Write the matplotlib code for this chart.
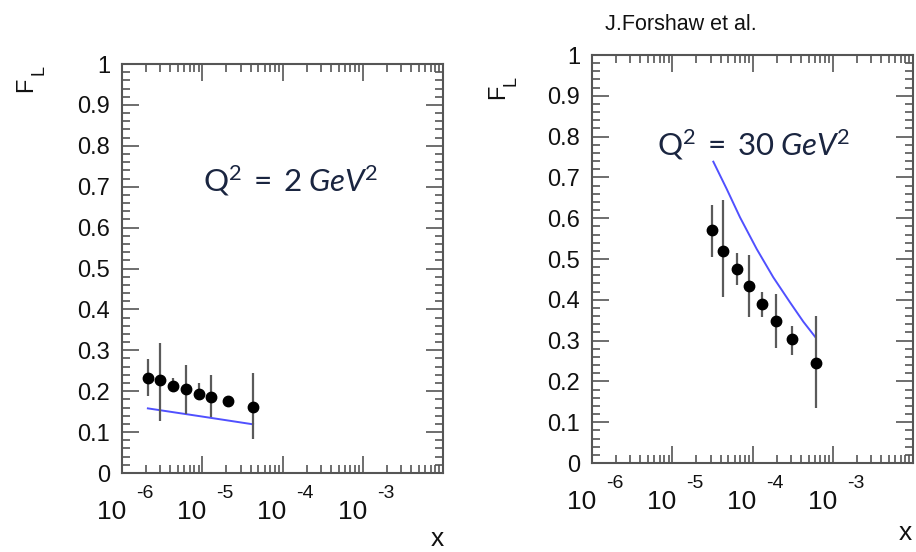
import numpy as np
import matplotlib
matplotlib.use('Agg')
import matplotlib.pyplot as plt
from matplotlib.transforms import ScaledTranslation

plt.rcParams['font.family'] = ['Liberation Sans', 'DejaVu Sans']
plt.rcParams['mathtext.fontset'] = 'custom'
plt.rcParams['mathtext.rm'] = 'Lato'
plt.rcParams['mathtext.it'] = 'Lato:italic'

# Q^2 = 2 GeV^2
x_lo = [2.11e-6, 2.98e-6, 4.35e-6, 6.2e-6, 9.1e-6, 1.29e-5, 2.1e-5, 4.3e-5]
fl_lo = [0.233, 0.228, 0.213, 0.205, 0.194, 0.187, 0.175, 0.161]
up_lo = [0.279, 0.319, 0.232, 0.265, 0.219, 0.240, 0.186, 0.244]
dn_lo = [0.188, 0.128, 0.198, 0.144, 0.178, 0.136, 0.165, 0.082]
xth_lo = [2.1e-6, 1.0e-5, 4.3e-5]
th_lo = [0.158, 0.138, 0.119]

# Q^2 = 30 GeV^2
x_hi = [3.15e-5, 4.3e-5, 6.35e-5, 9.0e-5, 1.30e-4, 1.95e-4, 3.08e-4, 6.14e-4]
fl_hi = [0.572, 0.520, 0.475, 0.434, 0.389, 0.348, 0.304, 0.246]
up_hi = [0.633, 0.645, 0.514, 0.510, 0.420, 0.414, 0.335, 0.360]
dn_hi = [0.506, 0.407, 0.436, 0.359, 0.359, 0.281, 0.265, 0.134]
xth_hi = [3.25e-5, 4.77e-5, 6.99e-5, 1.128e-4, 1.816e-4, 2.933e-4, 4.30e-4, 6.01e-4]
th_hi = [0.7385, 0.6716, 0.6021, 0.5245, 0.4551, 0.3938, 0.3463, 0.3096]

yticks = [0, 0.1, 0.2, 0.3, 0.4, 0.5, 0.6, 0.7, 0.8, 0.9, 1]
ylabels = ['0', '0.1', '0.2', '0.3', '0.4', '0.5', '0.6', '0.7', '0.8', '0.9', '1']
decades = [-6, -5, -4, -3]

W, H = 916, 552
fig = plt.figure(figsize=(W/100, H/100), dpi=100)

def shift(ax, dx, dy):
    return ax.get_xaxis_transform() + ScaledTranslation(dx/100, dy/100, fig.dpi_scale_trans)

def panel(rect, x, fl, up, dn, xth, th):
    ax = fig.add_axes(rect)
    ax.set_xscale('log')
    ax.set_xlim(1e-6, 1e-2)
    ax.set_ylim(0, 1)
    ax.plot(xth, th, color='#5050ff', lw=1.4, zorder=2)
    x = np.array(x)
    fl = np.array(fl)
    yerr = [fl - np.array(dn), np.array(up) - fl]
    ax.errorbar(x, fl, yerr=yerr, fmt='o', color='black', ms=7.5,
                ecolor='#5a5a5a', elinewidth=1.6, capsize=0, zorder=3)
    for s in ax.spines.values():
        s.set_color('#555555')
        s.set_linewidth(1.5)
    ax.set_yticks(yticks)
    ax.set_yticklabels(ylabels)
    ax.set_yticks(np.arange(0, 1.001, 0.02), minor=True)
    ax.xaxis.set_major_formatter(matplotlib.ticker.NullFormatter())
    ax.xaxis.set_minor_formatter(matplotlib.ticker.NullFormatter())
    ax.xaxis.set_minor_locator(matplotlib.ticker.LogLocator(base=10, subs=np.arange(2, 10), numticks=20))
    ax.tick_params(which='both', direction='in', top=True, right=True,
                   color='#555555', width=1.2)
    ax.tick_params(which='major', length=12.5)
    ax.tick_params(which='minor', length=5.8)
    ax.tick_params(axis='y', labelsize=17, pad=8.6, labelcolor='#111111')
    for e in decades:
        ax.text(10.0**e, 0, '10', transform=shift(ax, 4, -46), ha='right',
                va='baseline', fontsize=19, color='#111111')
        ax.text(10.0**e, 0, '-%d' % -e, transform=shift(ax, 14, -25), ha='left',
                va='baseline', fontsize=14, color='#111111')
    return ax

ax1 = panel([122/W, 1 - 473/H, 321/W, 409/H], x_lo, fl_lo, up_lo, dn_lo, xth_lo, th_lo)
ax2 = panel([592/W, 1 - 463/H, 321/W, 408/H], x_hi, fl_hi, up_hi, dn_hi, xth_hi, th_hi)

# axis titles
def figtext(px, py, s, **kw):
    fig.text(px/W, 1 - py/H, s, **kw)

figtext(26, 85, 'F', rotation=90, ha='center', va='center', fontsize=17, color='#111111')
figtext(39, 70, 'L', rotation=90, ha='center', va='center', fontsize=13, color='#111111')
figtext(498, 92, 'F', rotation=90, ha='center', va='center', fontsize=17, color='#111111')
figtext(511, 81, 'L', rotation=90, ha='center', va='center', fontsize=13, color='#111111')
figtext(437, 546, 'x', ha='center', va='baseline', fontsize=19, color='#111111')
figtext(905, 540, 'x', ha='center', va='baseline', fontsize=19, color='#111111')

figtext(203, 192, r'$\mathrm{Q^2\;=\;2\;}\mathit{GeV}\mathrm{^2}$', ha='left', va='baseline',
        fontsize=22.5, color='#1a2540')
figtext(657, 155, r'$\mathrm{Q^2\;=\;30\;}\mathit{GeV}\mathrm{^2}$', ha='left', va='baseline',
        fontsize=22.5, color='#1a2540')
figtext(605, 30, 'J.Forshaw et al.', ha='left', va='baseline', fontsize=15.5, color='#111111')

fig.savefig('out.png', dpi=100)
